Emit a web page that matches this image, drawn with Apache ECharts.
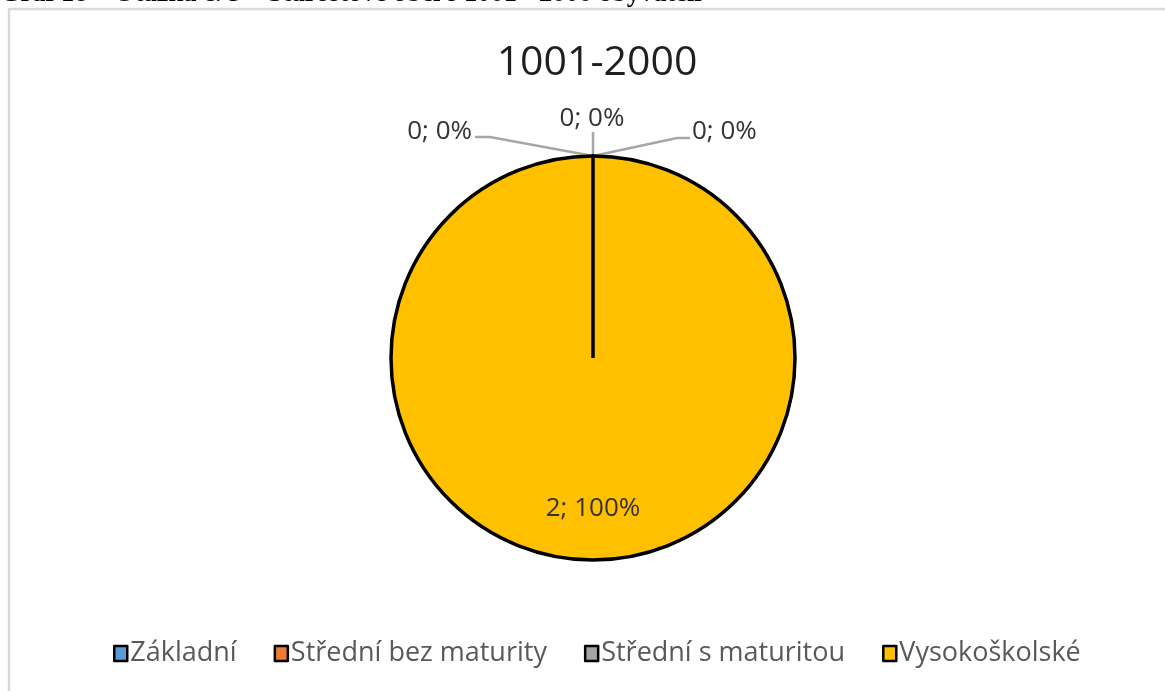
<!DOCTYPE html>
<html>
<head>
<meta charset="utf-8">
<script src="https://cdn.jsdelivr.net/npm/echarts@6/dist/echarts.min.js"></script>
<style>
html,body{margin:0;padding:0;background:#fff;}
#c{width:1165px;height:691px;}
</style>
</head>
<body>
<div id="c"></div>
<script>
const chartTitle = '1001-2000';
const caption = 'Graf 18 – Otázka č. 3 – Starostové obcí s 1001 - 2000 obyvateli';
const categories = ['Základní', 'Střední bez maturity', 'Střední s maturitou', 'Vysokoškolské'];
const values = [0, 0, 0, 2];
const colors = ['#5B9BD5', '#ED7D31', '#A5A5A5', '#FFC000'];

const FONT = 'Open Sans';
const CENTER = [593, 358];
const RADIUS = 202;
const chart = echarts.init(document.getElementById('c'), null, {renderer: 'canvas'});

const data = categories.map((name, i) => {
  const d = {name: name, value: values[i], itemStyle: {color: colors[i]}};
  if (values[i] !== 0) {
    d.label = {position: 'inside'};
    d.labelLine = {show: false};
  }
  return d;
});

// label offsets (layout only) for the zero slices, relative to the point on the pie edge
function labelLayout(params) {
  const i = params.dataIndex;
  const pts = params.labelLinePoints;
  if (values[i] !== 0 || !pts) {
    return {dy: 47};
  }
  const x0 = pts[0][0], y0 = pts[0][1];
  const k = values.slice(0, i + 1).filter(v => v === 0).length - 1;
  if (k === 0) {
    return {
      x: x0 - 121, y: y0 - 24, align: 'right', verticalAlign: 'middle',
      labelLinePoints: [[x0, y0], [x0 - 103, y0 - 19], [x0 - 118, y0 - 19]]
    };
  } else if (k === 1) {
    return {
      x: x0 - 1, y: y0 - 37, align: 'center', verticalAlign: 'middle',
      labelLinePoints: [[x0, y0], [x0, y0 - 12], [x0, y0 - 24]]
    };
  }
  return {
    x: x0 + 99, y: y0 - 24, align: 'left', verticalAlign: 'middle',
    labelLinePoints: [[x0, y0], [x0 + 84, y0 - 18], [x0 + 97, y0 - 18]]
  };
}

const option = {
  backgroundColor: '#ffffff',
  animation: false,
  title: {
    text: chartTitle,
    left: 592,
    top: 38,
    textAlign: 'center',
    textStyle: {fontFamily: FONT, fontSize: 41, fontWeight: 'normal', color: '#1f1f1f'}
  },
  legend: {
    data: categories,
    bottom: 19,
    left: 108,
    icon: 'rect',
    itemWidth: 13,
    itemHeight: 15,
    itemGap: 37,
    itemStyle: {borderColor: '#000', borderWidth: 2.5},
    textStyle: {fontFamily: FONT, fontSize: 27, color: '#595959', padding: [0, 0, 0, -2]}
  },
  graphic: [
    {
      type: 'rect',
      shape: {x: 9, y: 9, width: 1200, height: 720},
      style: {fill: 'none', stroke: '#d9d9d9', lineWidth: 2.5},
      silent: true
    },
    {
      type: 'text',
      x: 0,
      y: 7.5,
      style: {
        text: caption,
        fontFamily: 'Liberation Serif',
        fontWeight: 'bold',
        fontSize: 26.5,
        fill: '#000',
        verticalAlign: 'bottom',
        align: 'left'
      },
      silent: true
    },
    {
      // slice boundary at the start angle (zero-value slices)
      type: 'line',
      shape: {x1: CENTER[0], y1: CENTER[1], x2: CENTER[0], y2: CENTER[1] - RADIUS},
      style: {stroke: '#000', lineWidth: 3.5},
      z: 10,
      silent: true
    }
  ],
  series: [{
    type: 'pie',
    center: CENTER,
    radius: RADIUS,
    startAngle: 90,
    clockwise: true,
    avoidLabelOverlap: false,
    data: data,
    itemStyle: {borderColor: '#000', borderWidth: 3.5},
    label: {
      show: true,
      formatter: '{c}; {d}%',
      fontFamily: FONT,
      fontSize: 26,
      color: '#333333',
      position: 'outside'
    },
    labelLine: {
      show: true,
      length: 20,
      length2: 15,
      lineStyle: {color: '#A6A6A6', width: 2.5}
    },
    labelLayout: labelLayout
  }]
};

chart.setOption(option);
</script>
</body>
</html>
